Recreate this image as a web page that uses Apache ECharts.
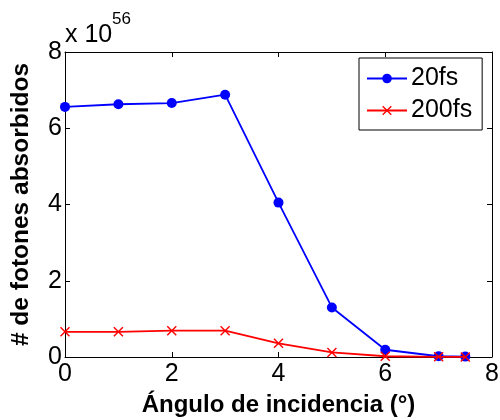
<!DOCTYPE html>
<html><head><meta charset="utf-8">
<script src="https://cdn.jsdelivr.net/npm/echarts@6/dist/echarts.min.js"></script>
<style>html,body{margin:0;padding:0;background:#fff}#c{width:500px;height:420px}</style>
</head><body><div id="c"></div>
<script>
var angles = [0, 1, 2, 3, 4, 5, 6, 7, 7.5];
var fs20 = [6.56, 6.63, 6.66, 6.88, 4.05, 1.30, 0.19, 0.02, 0.01];
var fs200 = [0.66, 0.66, 0.69, 0.69, 0.36, 0.12, 0.02, 0.005, 0.003];
var xTicks = [0, 2, 4, 6, 8];
var yTicks = [0, 2, 4, 6, 8];
var seriesNames = ['20fs', '200fs'];
var xTitle = 'Ángulo de incidencia (°)';
var yTitle = '# de fotones absorbidos';
var expText = 'x 10', expPow = '56';

var font = 'Liberation Sans, Arial, sans-serif';
var crossPath = 'path://M0,1L1,0L5,4L9,0L10,1L6,5L10,9L9,10L5,6L1,10L0,9L4,5Z';
function pairs(xs, ys){ return xs.map(function(x,i){return [x, ys[i]];}); }
var chart = echarts.init(document.getElementById('c'), null, {renderer:'canvas'});
var axisCommon = {
  min: 0, max: 8, interval: 2,
  axisLine: {show: true, onZero: false, lineStyle: {color: '#000', width: 1}},
  axisTick: {show: true, inside: true, length: 5, lineStyle: {color: '#000'}},
  splitLine: {show: false}
};
chart.setOption({
  animation: false,
  backgroundColor: '#fff',
  grid: {left: 65, right: 8, top: 52, bottom: 63, containLabel: false, outerBoundsMode: 'none'},
  xAxis: [
    Object.assign({type: 'value', position: 'bottom',
      axisLabel: {color: '#000', fontSize: 25, fontFamily: font, margin: 5},
      name: xTitle, nameLocation: 'middle', nameGap: 36,
      nameTextStyle: {color: '#000', fontSize: 24, fontWeight: 'bold', fontFamily: font}}, axisCommon),
    Object.assign({type: 'value', position: 'top', axisLabel: {show: false}}, axisCommon)
  ],
  yAxis: [
    Object.assign({type: 'value', position: 'left',
      axisLabel: {color: '#000', fontSize: 25, fontFamily: font, margin: 3},
      name: yTitle, nameLocation: 'middle', nameGap: 31,
      nameTextStyle: {color: '#000', fontSize: 24.5, fontWeight: 'bold', fontFamily: font}}, axisCommon),
    Object.assign({type: 'value', position: 'right', axisLabel: {show: false}}, axisCommon)
  ],
  legend: {
    orient: 'vertical', left: 359, top: 58,
    backgroundColor: '#fff', borderColor: '#000', borderWidth: 1,
    padding: [8, 10, 7, 7], itemGap: 7, itemWidth: 40, itemHeight: 12,
    textStyle: {color: '#000', fontSize: 25, fontFamily: font, padding: [0,0,0,-1]},
    data: seriesNames
  },
  graphic: [
    {type: 'text', left: 65, top: 23, style: {text: expText, fontSize: 25, fontFamily: font, fill: '#000'}},
    {type: 'text', left: 112, top: 11, style: {text: expPow, fontSize: 17, fontFamily: font, fill: '#000'}}
  ],
  series: [
    {name: seriesNames[0], type: 'line', data: pairs(angles, fs20),
     symbol: 'circle', symbolSize: 10, lineStyle: {color: '#0000ff', width: 1.8},
     itemStyle: {color: '#0000ff'}, z: 2},
    {name: seriesNames[1], type: 'line', data: pairs(angles, fs200),
     symbol: crossPath, symbolSize: 10, lineStyle: {color: '#ff0000', width: 1.8},
     itemStyle: {color: '#ff0000'}, z: 3}
  ]
});
</script></body></html>
